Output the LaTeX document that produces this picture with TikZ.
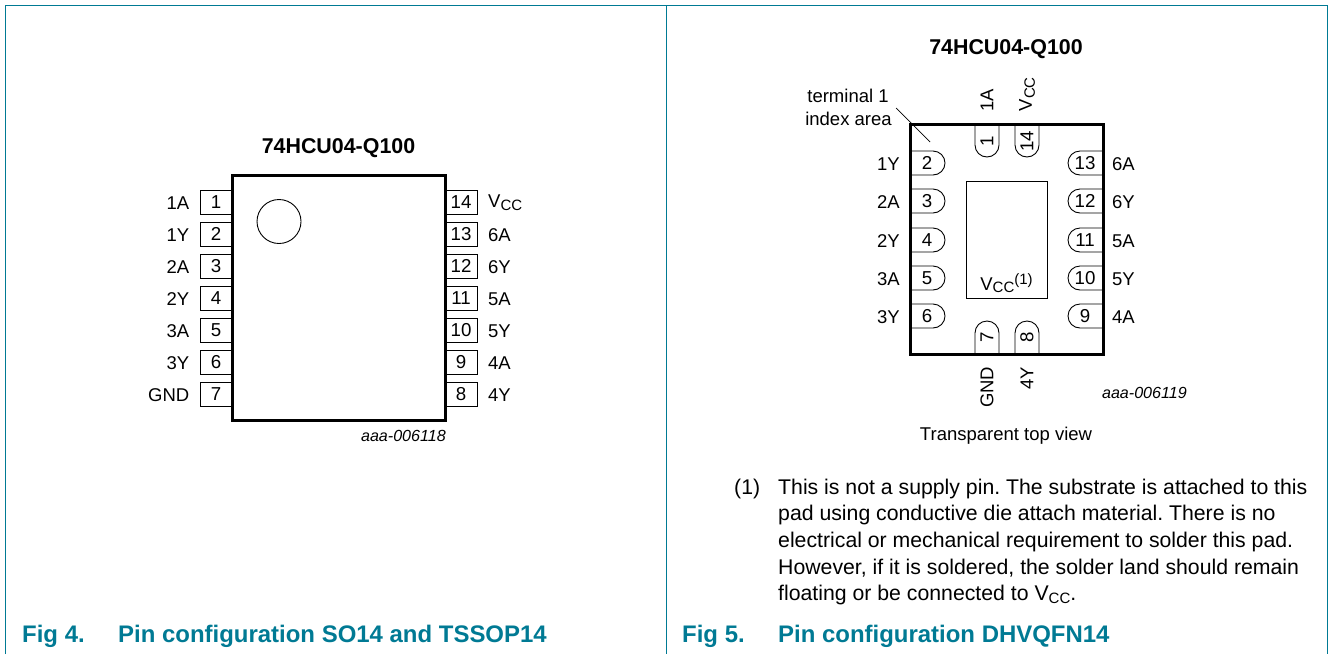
\documentclass[tikz,border=0pt]{standalone}
\usepackage{fontspec}
\setmainfont{Liberation Sans}
\definecolor{nxpteal}{RGB}{0,122,148}
\newcommand{\vcc}{V\raisebox{-0.3ex}{\fontsize{15}{16}\selectfont CC}}
\tikzset{
  x=1pt,y=-1pt,
  frameline/.style={draw=nxpteal,line width=0.9pt},
  chipbody/.style={draw=black,line width=3pt,line cap=round,line join=miter},
  pinbox/.style={draw=black,line width=0.9pt,minimum width=32pt,minimum height=24pt,inner sep=0pt,font=\fontsize{18.7}{22}\selectfont},
  padline/.style={draw=black,line width=0.9pt},
  lbl/.style={inner sep=0pt,font=\fontsize{18.5}{22}\selectfont},
  padlbl/.style={inner sep=0pt,font=\fontsize{18.7}{22}\selectfont},
  chiptitle/.style={inner sep=0pt,font=\fontsize{21.4}{24}\selectfont\bfseries},
  figlabel/.style={inner sep=0pt,anchor=base west,text=nxpteal,font=\fontsize{23.95}{26}\selectfont\bfseries},
  codelbl/.style={inner sep=0pt,font=\fontsize{16.1}{18}\selectfont\itshape},
  bodytext/.style={inner sep=0pt,anchor=base west,font=\fontsize{21.25}{24}\selectfont\frenchspacing},
}
\begin{document}
\begin{tikzpicture}
\useasboundingbox (0,0) rectangle (1328,654);
\fill[white] (0,0) rectangle (1328,654);
% frame
\coordinate (fa) at (5,654); \coordinate (fb) at (5,5); \coordinate (fc) at (1327,5); \coordinate (fd) at (1327,654);
\coordinate (fm) at (666,5); \coordinate (fn) at (666,654);
\draw[frameline] (fa) -- (fb) -- (fc) -- (fd);
\draw[frameline] (fm) -- (fn);
% left chip
\node[chiptitle] (titleL) at (338.5,148) {74HCU04-Q100};
\foreach \n/\t [count=\i from 0] in {1/1A,2/1Y,3/2A,4/2Y,5/3A,6/3Y,7/GND}{
  \pgfmathsetmacro{\yy}{202+32*\i}
  \node[pinbox] (pl\n) at (216,\yy) {\n};
  \node[lbl,anchor=east] (tl\n) at (189.5,\yy+1) {\t};
}
\foreach \n/\t [count=\i from 0] in {14/{\vcc},13/6A,12/6Y,11/5A,10/5Y,9/4A,8/4Y}{
  \pgfmathsetmacro{\yy}{202+32*\i}
  \node[pinbox] (pr\n) at (461,\yy) {\n};
  \node[lbl,anchor=west] (tr\n) at (488,\yy+1) {\t};
}
\node[chipbody,draw,fill=none,minimum width=213pt,minimum height=245pt,inner sep=0pt] (chipL) at (338.5,297.5) {};
\node[circle,draw=black,line width=0.9pt,minimum size=44pt,inner sep=0pt] (dot) at (279,221.5) {};
\node[codelbl,anchor=east] (codeL) at (446,435.5) {aaa-006118};
\node[figlabel] (figL) at (22,642) {Fig 4.};
\node[figlabel] (capL) at (118,642) {Pin configuration SO14 and TSSOP14};
% right chip
\node[chiptitle] (titleR) at (1006,49) {74HCU04-Q100};
\foreach \n/\t/\yy in {2/1Y/163,3/2A/201,4/2Y/240,5/3A/278,6/3Y/316}{
  \draw[padline] (910,\yy-12) -- (933,\yy-12) arc[start angle=-90,end angle=90,radius=12] -- (910,\yy+12);
  \node[padlbl] (pq\n) at (927,\yy) {\n};
  \node[lbl,anchor=east] (tq\n) at (900,\yy+1) {\t};
}
\foreach \n/\t/\yy in {13/6A/163,12/6Y/201,11/5A/240,10/5Y/278,9/4A/316}{
  \draw[padline] (1103,\yy-12) -- (1080,\yy-12) arc[start angle=270,end angle=90,radius=12] -- (1103,\yy+12);
  \node[padlbl] (pq\n) at (1085,\yy) {\n};
  \node[lbl,anchor=west] (tq\n) at (1112,\yy+1) {\t};
}
\foreach \n/\xx/\t in {1/987/1A,14/1027/{\vcc}}{
  \draw[padline] (\xx-12,124) -- (\xx-12,145) arc[start angle=180,end angle=0,radius=12] -- (\xx+12,124);
  \node[padlbl,rotate=90] (pq\n) at (\xx,141) {\n};
  \node[lbl,rotate=90,anchor=west] (tq\n) at (\xx,111.500) {\t};
}
\foreach \n/\xx/\t in {7/987/GND,8/1027/4Y}{
  \draw[padline] (\xx-12,354) -- (\xx-12,333) arc[start angle=180,end angle=360,radius=12] -- (\xx+12,354);
  \node[padlbl,rotate=90] (pq\n) at (\xx,337) {\n};
  \node[lbl,rotate=90,anchor=east] (tq\n) at (\xx,366.500) {\t};
}
\node[draw=black,line width=0.9pt,minimum width=81pt,minimum height=117pt,inner sep=0pt] (padC) at (1006.5,239.5) {};
\node[lbl,anchor=base] (vccC) at (1006.5,290) {\vcc\raisebox{0.6ex}{\fontsize{15}{16}\selectfont (1)}};
\node[chipbody,draw,fill=none,minimum width=193pt,minimum height=230pt,inner sep=0pt] (chipR) at (1006.5,239) {};
\node[lbl] (term1) at (848,96) {terminal 1};
\node[lbl] (term2) at (848.5,119) {index area};
\coordinate (idxa) at (896,108); \coordinate (idxb) at (930,142);
\draw[line width=0.7pt] (idxa) -- (idxb);
\node[codelbl,anchor=east] (codeR) at (1187,392.5) {aaa-006119};
\node[lbl] (topview) at (1006,436) {Transparent top view};
\node[bodytext] (n0) at (734,494) {(1)};
\node[bodytext] (n1) at (778,494) {This is not a supply pin. The substrate is attached to this};
\node[bodytext] (n2) at (778,520) {pad using conductive die attach material. There is no};
\node[bodytext] (n3) at (778,547) {electrical or mechanical requirement to solder this pad.};
\node[bodytext] (n4) at (778,574) {However, if it is soldered, the solder land should remain};
\node[bodytext] (n5) at (778,600.5) {floating or be connected to \vcc.};
\node[figlabel] (figR) at (682,642) {Fig 5.};
\node[figlabel] (capR) at (778,642) {Pin configuration DHVQFN14};
\end{tikzpicture}
\end{document}
